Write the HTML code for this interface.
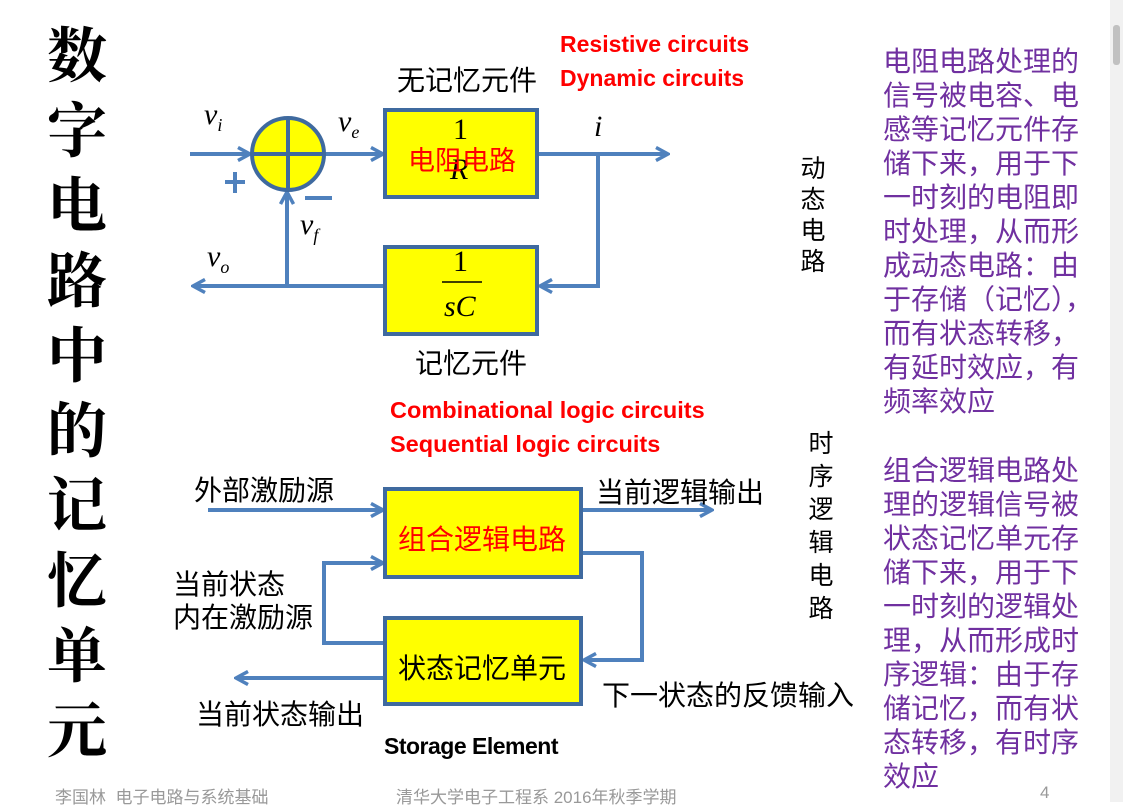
<!DOCTYPE html>
<html><head><meta charset="utf-8"><style>
body{margin:0;width:1123px;height:802px;background:#fff;overflow:hidden;position:relative;font-family:"Liberation Sans","Noto Sans CJK SC",sans-serif}
.a{position:absolute;white-space:nowrap}
.t{font-family:"Liberation Serif","Noto Serif CJK SC",serif;font-size:60px;line-height:75px;left:44px;top:20px;width:66px;text-align:center;color:#000;font-weight:bold}
.cn{font-size:28px;color:#000}
.red{color:#f00;font-weight:bold;font-size:23px;line-height:34px}
.pur{color:#7030a0;font-size:28px;line-height:34px;left:883px}
.v{font-size:25px;line-height:31px;width:30px;text-align:center}
.m{font-family:"Liberation Serif",serif;font-style:italic;font-size:30px}
.n{font-family:"Liberation Serif",serif;font-size:30px}
.foot{color:#999;font-size:17px;top:783px}
</style></head><body>
<div class="a t">数<br>字<br>电<br>路<br>中<br>的<br>记<br>忆<br>单<br>元</div>

<svg class="a" style="left:0;top:0" width="1123" height="802">
<defs><marker id="ar" viewBox="0 0 16 16" refX="14" refY="8" markerWidth="16" markerHeight="16" markerUnits="userSpaceOnUse" orient="auto"><path d="M2,1.5 L14,8 L2,14.5" fill="none" stroke="#4f81bd" stroke-width="3.5"/></marker></defs>
<g stroke="#4f81bd" stroke-width="4" fill="none">
<line x1="190" y1="154" x2="250" y2="154" marker-end="url(#ar)"/>
<line x1="324" y1="154" x2="383" y2="154" marker-end="url(#ar)"/>
<line x1="538" y1="154" x2="668" y2="154" marker-end="url(#ar)"/>
<polyline points="598,154 598,286 540,286" marker-end="url(#ar)"/>
<line x1="384" y1="286" x2="193" y2="286" marker-end="url(#ar)"/>
<line x1="287" y1="286" x2="287" y2="192" marker-end="url(#ar)"/>
<line x1="225" y1="182" x2="245" y2="182"/><line x1="235" y1="172" x2="235" y2="193"/>
<line x1="305" y1="198" x2="332" y2="198"/>
<line x1="208" y1="510" x2="383" y2="510" marker-end="url(#ar)"/>
<line x1="582" y1="510" x2="712" y2="510" marker-end="url(#ar)"/>
<polyline points="384,643 324,643 324,563 383,563" marker-end="url(#ar)"/>
<polyline points="582,553 642,553 642,660 584,660" marker-end="url(#ar)"/>
<line x1="384" y1="678" x2="236" y2="678" marker-end="url(#ar)"/>
</g>
<circle cx="288" cy="154" r="36" fill="#ffff00" stroke="#3f6a9f" stroke-width="4"/>
<line x1="252" y1="154" x2="324" y2="154" stroke="#3f6a9f" stroke-width="4"/>
<line x1="288" y1="118" x2="288" y2="190" stroke="#3f6a9f" stroke-width="4"/>
<g fill="#ffff00" stroke="#3f6a9f" stroke-width="4">
<rect x="385" y="110" width="152" height="87"/>
<rect x="385" y="247" width="152" height="87"/>
<rect x="385" y="489" width="196" height="88"/>
<rect x="385" y="618" width="196" height="86"/>
</g>
<line x1="442" y1="282" x2="482" y2="282" stroke="#000" stroke-width="1.5"/>
</svg>

<div class="a n" style="left:453px;top:113px">1</div>
<div class="a m" style="left:450px;top:153px">R</div>
<div class="a" style="left:408px;top:139px;color:#f00;font-size:27px">电阻电路</div>
<div class="a n" style="left:453px;top:245px">1</div>
<div class="a m" style="left:444px;top:290px">sC</div>
<div class="a m" style="left:204px;top:98px">v<sub style="font-size:18px">i</sub></div>
<div class="a m" style="left:338px;top:105px">v<sub style="font-size:18px">e</sub></div>
<div class="a m" style="left:594px;top:110px">i</div>
<div class="a m" style="left:300px;top:208px">v<sub style="font-size:18px">f</sub></div>
<div class="a m" style="left:207px;top:240px">v<sub style="font-size:18px">o</sub></div>

<div class="a cn" style="left:397px;top:59px">无记忆元件</div>
<div class="a cn" style="left:415px;top:342px">记忆元件</div>
<div class="a red" style="left:560px;top:27px">Resistive circuits<br>Dynamic circuits</div>
<div class="a red" style="left:390px;top:393px;font-size:23.5px">Combinational logic circuits<br>Sequential logic circuits</div>

<div class="a cn" style="left:194px;top:469px">外部激励源</div>
<div class="a cn" style="left:596px;top:471px">当前逻辑输出</div>
<div class="a" style="left:398px;top:518px;color:#f00;font-size:28px">组合逻辑电路</div>
<div class="a cn" style="left:173px;top:568px;line-height:33px">当前状态<br>内在激励源</div>
<div class="a cn" style="left:398px;top:647px">状态记忆单元</div>
<div class="a cn" style="left:602px;top:674px">下一状态的反馈输入</div>
<div class="a cn" style="left:196px;top:693px">当前状态输出</div>
<div class="a" style="left:384px;top:733px;font-weight:bold;font-size:23px;letter-spacing:-0.5px">Storage Element</div>

<div class="a v" style="left:798px;top:154px">动<br>态<br>电<br>路</div>
<div class="a v" style="left:806px;top:428px;line-height:33px">时<br>序<br>逻<br>辑<br>电<br>路</div>

<div class="a pur" style="top:45px">电阻电路处理的<br>信号被电容、电<br>感等记忆元件存<br>储下来，用于下<br>一时刻的电阻即<br>时处理，从而形<br>成动态电路：由<br>于存储（记忆），<br>而有状态转移，<br>有延时效应，有<br>频率效应</div>
<div class="a pur" style="top:454px">组合逻辑电路处<br>理的逻辑信号被<br>状态记忆单元存<br>储下来，用于下<br>一时刻的逻辑处<br>理，从而形成时<br>序逻辑：由于存<br>储记忆，而有状<br>态转移，有时序<br>效应</div>

<div class="a foot" style="left:55px">李国林&nbsp; 电子电路与系统基础</div>
<div class="a foot" style="left:396px">清华大学电子工程系 2016年秋季学期</div>
<div class="a foot" style="left:1040px">4</div>
<div class="a" style="left:1110px;top:0;width:13px;height:802px;background:#f1f1f1"></div>
<div class="a" style="left:1113px;top:25px;width:7px;height:40px;background:#c1c1c1;border-radius:3px"></div>
</body></html>
